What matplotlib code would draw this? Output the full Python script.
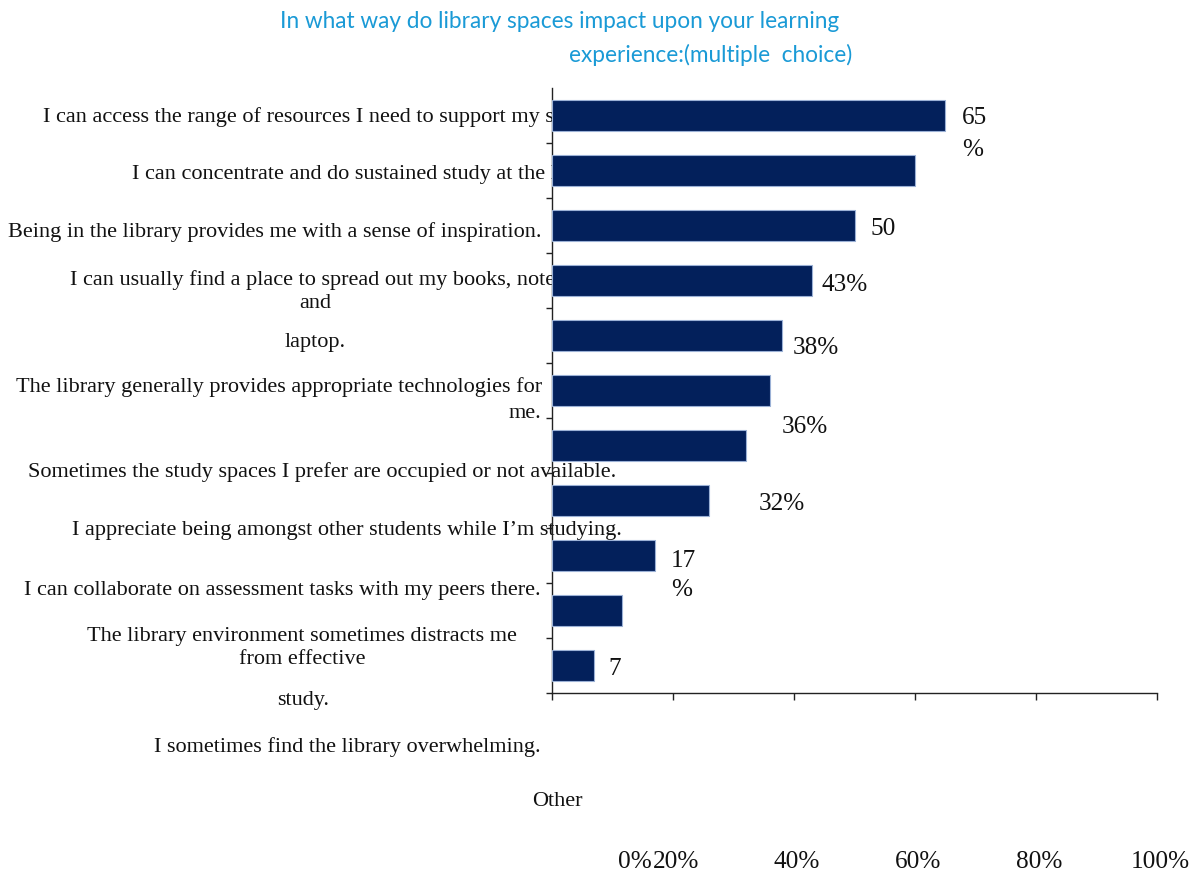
import matplotlib
matplotlib.use("Agg")
import matplotlib.pyplot as plt
from matplotlib.transforms import blended_transform_factory

# ---------------- data ----------------
categories = [
    "I can access the range of resources I need to support my study.",
    "I can concentrate and do sustained study at the library.",
    "Being in the library provides me with a sense of inspiration.",
    "I can usually find a place to spread out my books, notes and laptop.",
    "The library generally provides appropriate technologies for me.",
    "Sometimes the study spaces I prefer are occupied or not available.",
    "I appreciate being amongst other students while I\u2019m studying.",
    "I can collaborate on assessment tasks with my peers there.",
    "The library environment sometimes distracts me from effective study.",
    "I sometimes find the library overwhelming.",
    "Other",
]
values = [65, 60, 50, 43, 38, 36, 32, 26, 17, 11.5, 7]
value_label_texts = ["65", "%", "50", "43%", "38%", "36%", "32%", "17", "%", "7"]
xtick_values = [0, 20, 40, 60, 80, 100]
xtick_labels = ["0%", "20%", "40%", "60%", "80%", "100%"]
title_lines = ["In what way do library spaces impact upon your learning",
               "experience:(multiple  choice)"]

# ---------------- layout ----------------
W, H = 1197, 873
fig = plt.figure(figsize=(W / 100, H / 100), dpi=100)
fig.patch.set_facecolor("white")

def fx(x):
    return x / W

def fy(y):
    return 1 - y / H

ax = fig.add_axes([fx(552), fy(693), fx(1157) - fx(552), fy(88) - fy(693)])
ax.patch.set_visible(False)

pos = list(range(len(categories)))
ax.barh(pos, values, height=0.56, color="#03205b", edgecolor="#9bb1d6",
        linewidth=0.8, zorder=3)
ax.set_xlim(0, 100)
ax.set_ylim(len(categories) - 0.5, -0.5)

for s in ["top", "right"]:
    ax.spines[s].set_visible(False)
for s in ["left", "bottom"]:
    ax.spines[s].set_color("#222222")
    ax.spines[s].set_linewidth(1.0)

ax.set_yticks([i + 0.5 for i in range(len(categories))])
ax.set_yticklabels([])
ax.tick_params(axis="y", direction="out", length=4.5, width=1, color="#222222")
ax.set_xticks(xtick_values)
ax.set_xticklabels([])
ax.tick_params(axis="x", direction="out", length=5, width=1, color="#222222")

SERIF = "Liberation Serif"
lab_fs = 16
val_fs = 18.2

# category label fragments (text derived from categories, placed as in the reference)
c = categories
label_frags = [
    (c[0], 43, 117, "left"),
    (c[1], 132, 175, "left"),
    (c[2], 541, 232, "right"),
    ("I can usually find a place to spread out my books, notes", 70, 280, "left"),
    ("and", 315, 303, "center"),
    ("laptop.", 315, 343, "center"),
    ("The library generally provides appropriate technologies for", 542, 387, "right"),
    ("me.", 541, 413, "right"),
    (c[5], 28, 472, "left"),
    (c[6], 72, 530, "left"),
    (c[7], 541, 591, "right"),
    ("The library environment sometimes distracts me", 302, 636, "center"),
    ("from effective", 302, 659, "center"),
    ("study.", 303, 700, "center"),
    (c[9], 541, 747, "right"),
    (c[10], 557, 802, "center"),
]
for txt, x, y, ha in label_frags:
    fig.text(fx(x), fy(y), txt, ha=ha, va="center", fontsize=lab_fs,
             family=SERIF, color="#111111", zorder=-1)

# value labels
val_pos = [(962, 118), (962, 150), (871, 229), (821, 285), (793, 348),
           (782, 427), (759, 504), (671, 561), (671, 590), (608, 669)]
for txt, (x, y) in zip(value_label_texts, val_pos):
    fig.text(fx(x), fy(y), txt, ha="left", va="center", fontsize=val_fs,
             family=SERIF, color="#111111")

# x tick labels
blend = blended_transform_factory(ax.transData, fig.transFigure)
for v, lab in zip(xtick_values[1:], xtick_labels[1:]):
    ax.text(v + 0.5, fy(862), lab, transform=blend, ha="center", va="center",
            fontsize=val_fs, family=SERIF, color="#111111")
ax.annotate(xtick_labels[0], xy=(xtick_values[1], fy(862)), xycoords=blend,
            xytext=(-15, 0), textcoords="offset points", ha="right", va="center",
            fontsize=val_fs, family=SERIF, color="#111111")

# title
TITLE_C = "#1a9ad6"
fig.text(fx(560), fy(21), title_lines[0], ha="center", va="center",
         fontsize=16.3, family="Lato", color=TITLE_C)
fig.text(fx(711), fy(55), title_lines[1], ha="center", va="center",
         fontsize=16.3, family="Lato", color=TITLE_C)

fig.savefig("out.png", dpi=100)
